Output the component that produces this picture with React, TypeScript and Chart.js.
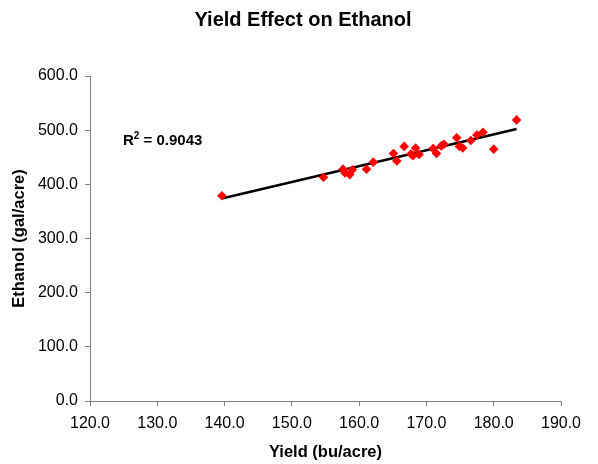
import React, { useEffect, useRef } from "react";
import { Chart, registerables } from "chart.js";

Chart.register(...registerables);

const chartTitle = "Yield Effect on Ethanol";
const xTitle = "Yield (bu/acre)";
const yTitle = "Ethanol (gal/acre)";
const rSquaredLabel = "0.9043";

const yieldX = [
  139.6, 154.7, 157.6, 157.9, 158.6, 159.0, 161.1, 162.1, 165.1, 165.6,
  166.7, 167.7, 168.0, 168.4, 168.9, 171.0, 171.5, 172.2, 172.6, 174.5,
  174.9, 175.4, 176.6, 177.5, 178.4, 180.0, 183.4,
];
const ethanolY = [
  379, 413, 428, 421, 418, 427, 428, 441, 457, 443,
  470, 456, 453, 467, 455, 466, 457, 471, 474, 486,
  470, 467, 481, 491, 496, 465, 519,
];
const trendX = [139.6, 183.4];
const trendY = [374, 502];

const xMin = 120;
const xMax = 190;
const xStep = 10;
const yMin = 0;
const yMax = 600;
const yStep = 100;

const FONT = "'Liberation Sans', Arial, sans-serif";

const titlePlugin = {
  id: "centerTitle",
  afterDraw(chart: any) {
    const { ctx } = chart;
    ctx.save();
    ctx.fillStyle = "#000";
    ctx.textAlign = "center";
    ctx.textBaseline = "middle";
    ctx.font = `bold 20px ${FONT}`;
    ctx.fillText(chartTitle, 303, 20);
    ctx.restore();
  },
};

const rLabelPlugin = {
  id: "rLabel",
  afterDatasetsDraw(chart: any) {
    const { ctx, scales } = chart;
    const x = scales.x.getPixelForValue(124.9);
    const y = scales.y.getPixelForValue(480);
    ctx.save();
    ctx.fillStyle = "#000";
    ctx.textBaseline = "middle";
    ctx.textAlign = "left";
    ctx.font = `bold 15px ${FONT}`;
    ctx.fillText("R", x, y);
    const w = ctx.measureText("R").width;
    ctx.font = `bold 10px ${FONT}`;
    ctx.fillText("2", x + w, y - 5);
    const w2 = ctx.measureText("2").width;
    ctx.font = `bold 15px ${FONT}`;
    ctx.fillText(" = " + rSquaredLabel, x + w + w2, y);
    ctx.restore();
  },
};

export default function App() {
  const ref = useRef<HTMLCanvasElement>(null);
  useEffect(() => {
    if (!ref.current) return;
    const chart = new Chart(ref.current, {
      type: "scatter",
      data: {
        datasets: [
          {
            type: "line",
            label: "Trend",
            data: trendX.map((x, i) => ({ x, y: trendY[i] })),
            borderColor: "#000000",
            borderWidth: 2.5,
            pointRadius: 0,
            fill: false,
            order: 2,
          },
          {
            label: "Ethanol",
            data: yieldX.map((x, i) => ({ x, y: ethanolY[i] })),
            backgroundColor: "#FF0000",
            borderColor: "#FF0000",
            pointStyle: "rectRot",
            pointRadius: 4.8,
            borderWidth: 0,
            order: 1,
          },
        ],
      },
      options: {
        animation: false,
        responsive: true,
        maintainAspectRatio: false,
        layout: { padding: { left: 0, right: 37, top: 76, bottom: 0 } },
        plugins: {
          legend: { display: false },
          tooltip: { enabled: false },
          title: { display: false },
        },
        scales: {
          x: {
            type: "linear",
            min: xMin,
            max: xMax,
            afterFit: (s: any) => {
              s.height = 63;
            },
            ticks: {
              stepSize: xStep,
              color: "#000",
              padding: 8,
              maxRotation: 0,
              font: { family: FONT, size: 16 },
              callback: (v: any) => Number(v).toFixed(1),
            },
            grid: {
              drawOnChartArea: false,
              drawTicks: true,
              tickLength: 5,
              color: "#808080",
            },
            border: { display: true, color: "#808080", width: 1 },
            title: {
              display: true,
              text: xTitle,
              color: "#000",
              font: { family: FONT, size: 16.5, weight: "bold" },
              padding: { top: 2, bottom: 2 },
            },
          },
          y: {
            type: "linear",
            min: yMin,
            max: yMax,
            afterFit: (s: any) => {
              s.width = 90;
            },
            ticks: {
              stepSize: yStep,
              color: "#000",
              padding: 7,
              font: { family: FONT, size: 16 },
              callback: (v: any) => Number(v).toFixed(1),
            },
            grid: {
              drawOnChartArea: false,
              drawTicks: true,
              tickLength: 5,
              color: "#808080",
            },
            border: { display: true, color: "#808080", width: 1 },
            title: {
              display: true,
              text: yTitle,
              color: "#000",
              font: { family: FONT, size: 16.5, weight: "bold" },
              padding: { top: 10, bottom: 2 },
            },
          },
        },
      },
      plugins: [rLabelPlugin, titlePlugin],
    } as any);
    return () => chart.destroy();
  }, []);
  return (
    <div
      style={{
        position: "fixed",
        left: 0,
        top: 0,
        width: 598,
        height: 464,
        background: "#fff",
      }}
    >
      <canvas ref={ref} />
    </div>
  );
}
